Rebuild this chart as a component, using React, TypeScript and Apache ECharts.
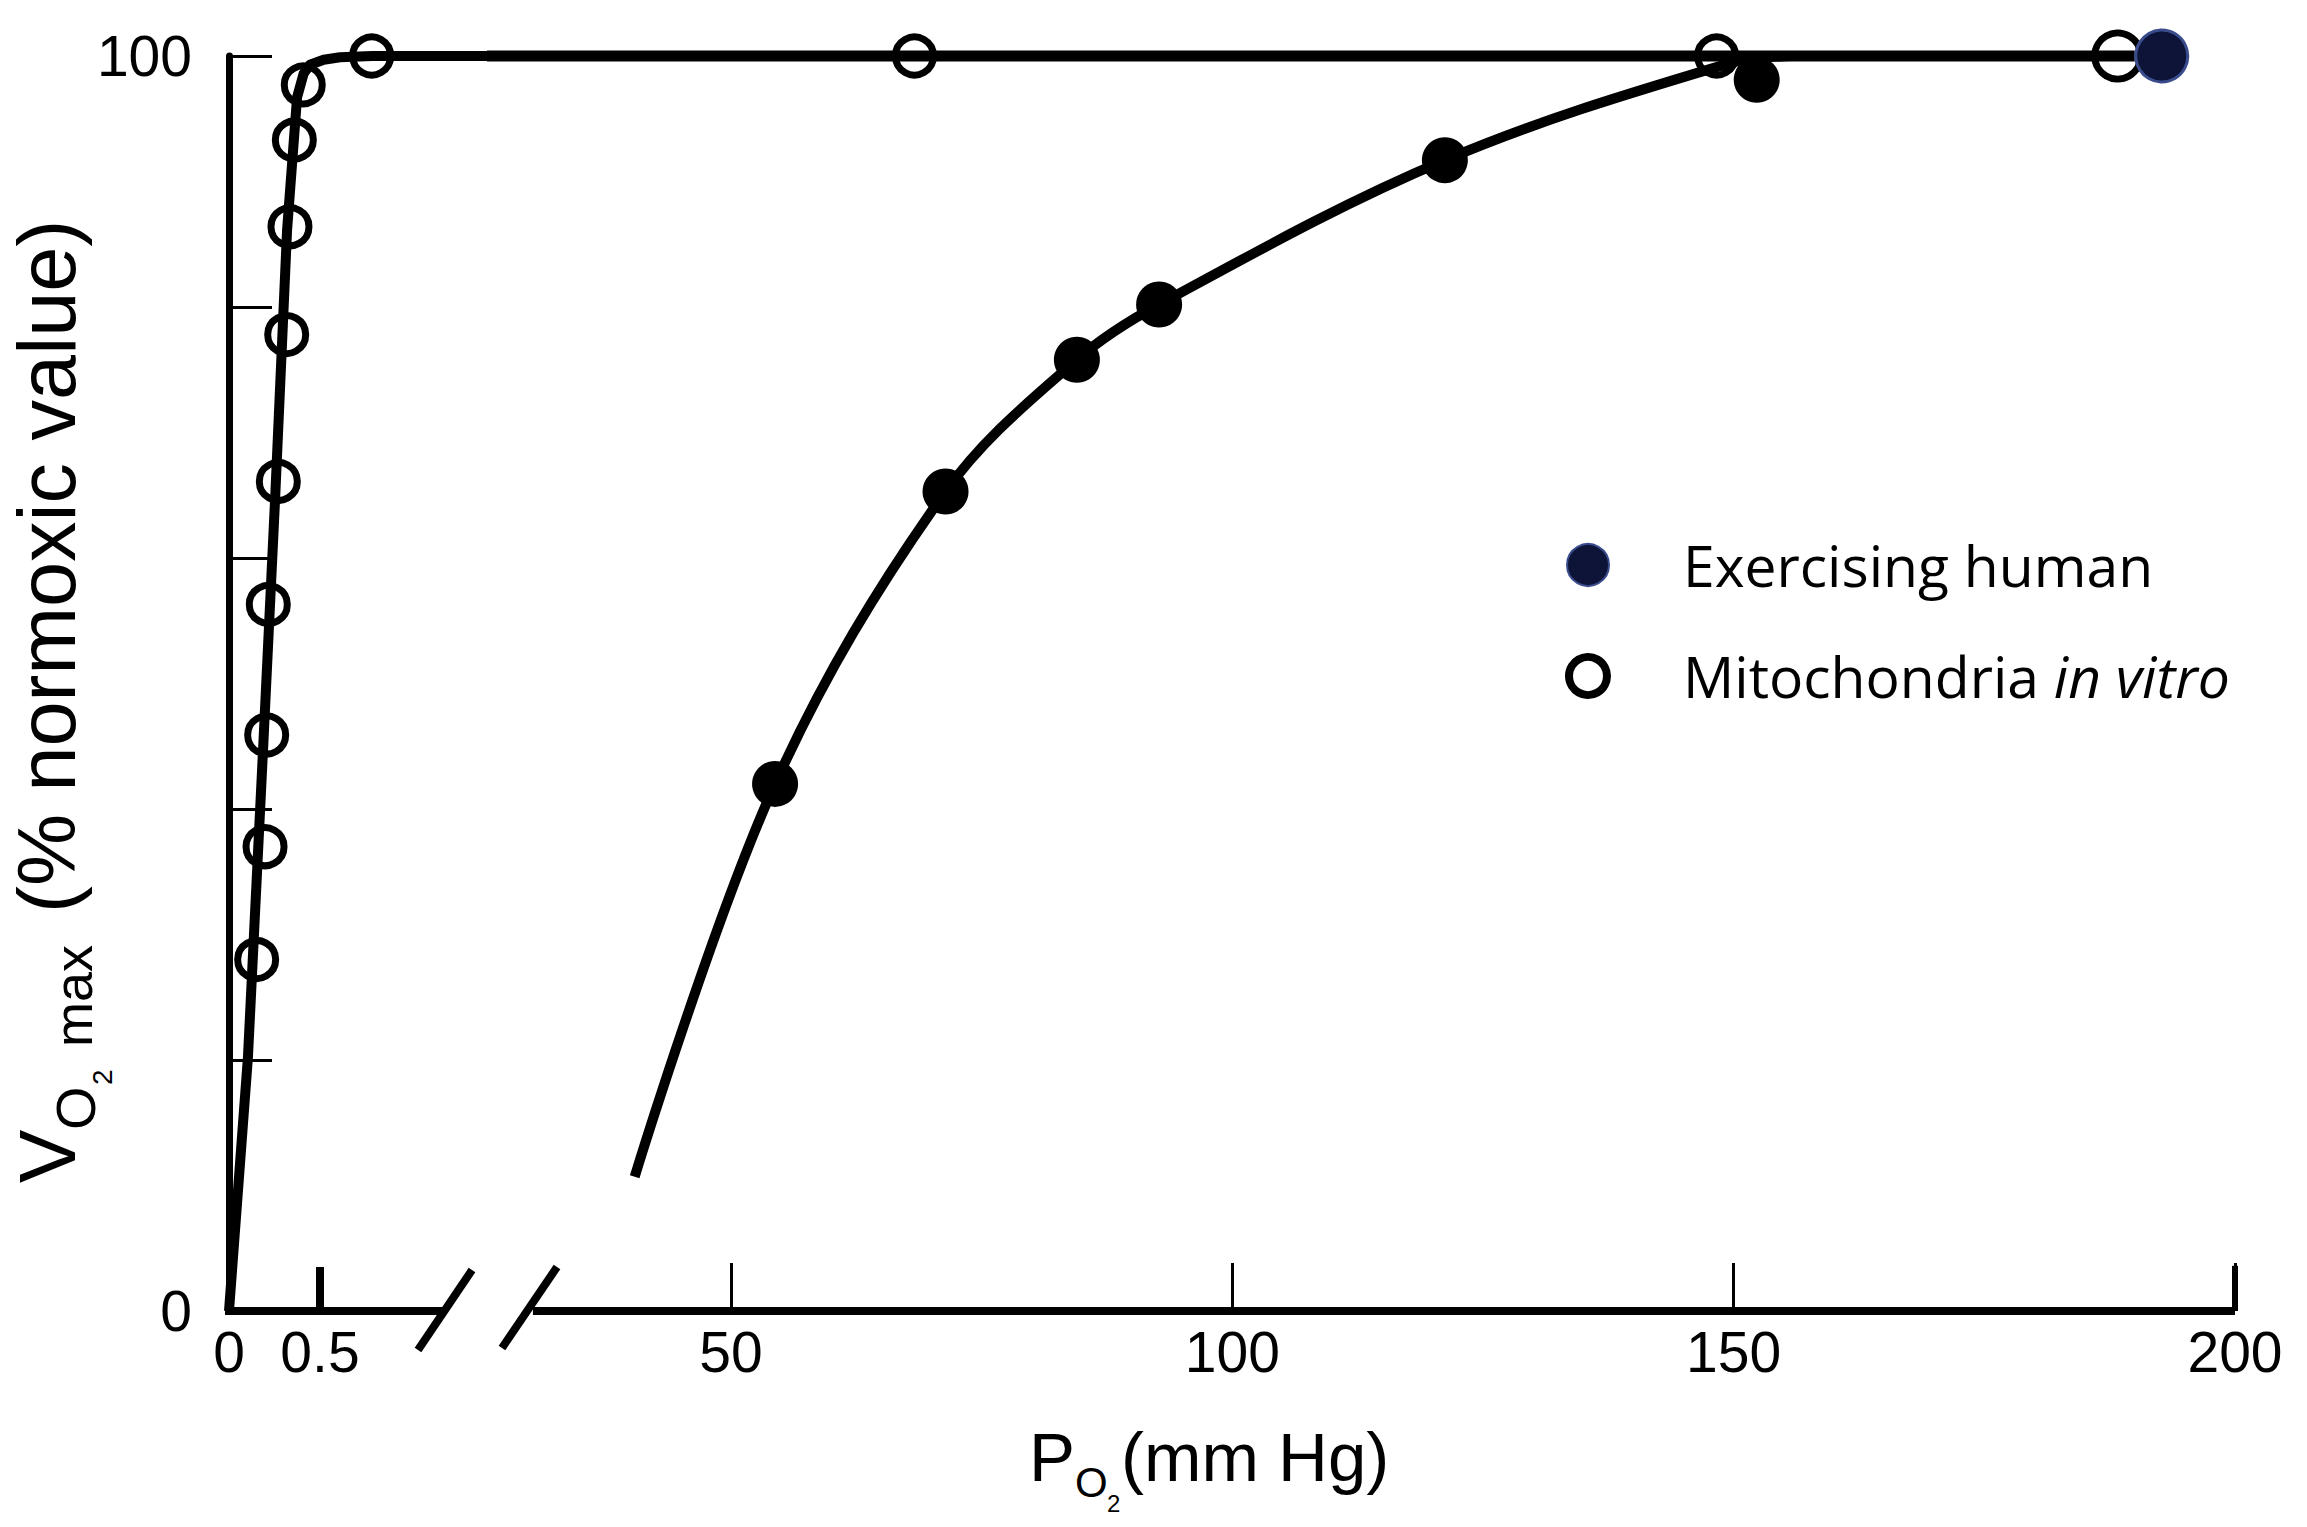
import React, { useEffect, useRef } from "react";
import * as echarts from "echarts";

// ---- data ----
const yTickValues = [0, 20, 40, 60, 80, 100];
const yLabelValues = [0, 100];
const lowXLabels = [0, 0.5];
const lowXTicks = [0.5];
const highXLabels = [50, 100, 150, 200];

// broken x axis: low (expanded) part and high part
const lowXRange = [0, 1.4176];
const highXRange = [25.67, 200];
const lowAxisSegment = [0, 1.159];
const highAxisSegment = [30.25, 200];

// Exercising human (filled)
const humanPO2 = [54.4, 71.4, 84.5, 92.7, 121.2, 152.3, 192.7];
const humanVO2 = [42.0, 65.3, 75.8, 80.2, 91.7, 98.1, 100];

// Mitochondria in vitro (open) – low PO2 part (expanded scale) and high PO2 part
const mitoLowPO2 = [0.152, 0.198, 0.207, 0.216, 0.271, 0.317, 0.335, 0.359, 0.408, 0.784];
const mitoLowVO2 = [28.0, 37.0, 45.9, 56.3, 66.1, 77.8, 86.4, 93.3, 97.7, 100];
const mitoHighPO2 = [68.3, 148.3, 188.3];
const mitoHighVO2 = [100, 100, 100];

// fitted curves
const mitoFitLowPO2 = [0, 0.104, 0.187, 0.253, 0.319, 0.374, 0.41, 0.445, 0.52, 0.61, 0.786, 1.4176];
const mitoFitLowVO2 = [0, 20.2, 44.7, 64.6, 86.1, 96.7, 98.6, 99.3, 99.7, 99.9, 100, 100];
const mitoFitHighPO2 = [25.67, 190];
const mitoFitHighVO2 = [100, 100];
const humanFitPO2 = [40.4, 54.4, 71.4, 84.5, 92.7, 121.2, 149.5, 155.8];
const humanFitVO2 = [10.7, 42.0, 65.3, 75.8, 80.2, 91.7, 99.4, 100];

// axis end marker at 200
const endTickPO2 = [200, 200];
const endTickVO2 = [0, 3.6];

const zip = (a: number[], b: number[]) => a.map((v, i) => [v, b[i]]);

const SANS = '"Liberation Sans", Arial, Helvetica, sans-serif';
const LEG = '"Open Sans", "Noto Sans", sans-serif';
const CENTRAL_LS = 0.3465; // central baseline offset (em) for Liberation Sans

function sansText(text: string, x: number, baseline: number, fs: number) {
  return {
    type: "text",
    x,
    y: baseline - CENTRAL_LS * fs,
    silent: true,
    style: {
      text,
      fontSize: fs,
      fontFamily: SANS,
      fill: "#000",
      align: "left",
      verticalAlign: "middle",
      textAlign: "left",
      textVerticalAlign: "middle",
    },
  };
}

const blackLine = (xi: number, data: number[][], width: number, smooth: any = false, extra: any = {}) => ({
  type: "line",
  xAxisIndex: xi,
  yAxisIndex: xi,
  data,
  symbol: "none",
  smooth,
  clip: false,
  silent: true,
  lineStyle: { color: "#000", width, opacity: 1, ...extra },
  z: 2,
});

export default function App() {
  const ref = useRef<HTMLDivElement>(null);

  useEffect(() => {
    if (!ref.current) return;
    const chart = echarts.init(ref.current, null, { renderer: "svg" });

    const lastHuman = humanPO2.length - 1;
    const lastMito = mitoHighPO2.length - 1;

    const labelStyle = {
      show: true,
      margin: 12,
      fontSize: 57,
      fontFamily: SANS,
      color: "#000",
      formatter: (v: number) => String(v),
    };

    const option: any = {
      animation: false,
      backgroundColor: "#ffffff",
      grid: [
        { left: 229, top: 56, width: 258, height: 1255, containLabel: false, outerBoundsMode: "none" },
        { left: 487, top: 56, width: 1748, height: 1255, containLabel: false, outerBoundsMode: "none" },
      ],
      xAxis: [
        {
          type: "value",
          gridIndex: 0,
          min: lowXRange[0],
          max: lowXRange[1],
          axisLine: { show: false },
          axisTick: {
            show: true,
            inside: true,
            length: 44,
            customValues: lowXTicks,
            lineStyle: { color: "#000", width: 8 },
          },
          axisLabel: { ...labelStyle, customValues: lowXLabels },
          splitLine: { show: false },
        },
        {
          type: "value",
          gridIndex: 1,
          min: highXRange[0],
          max: highXRange[1],
          axisLine: { show: false },
          axisTick: {
            show: true,
            inside: true,
            length: 48,
            customValues: highXLabels,
            lineStyle: { color: "#000", width: 3 },
          },
          axisLabel: { ...labelStyle, customValues: highXLabels },
          splitLine: { show: false },
        },
      ],
      yAxis: [
        {
          type: "value",
          gridIndex: 0,
          min: 0,
          max: 100,
          interval: 20,
          axisLine: { show: true, lineStyle: { color: "#000", width: 7 } },
          axisTick: {
            show: true,
            inside: true,
            length: 43,
            customValues: yTickValues,
            lineStyle: { color: "#000", width: 3 },
          },
          axisLabel: {
            show: true,
            customValues: yLabelValues,
            margin: 37,
            fontSize: 57,
            fontFamily: SANS,
            color: "#000",
            formatter: (v: number) => (yLabelValues.indexOf(v) >= 0 ? String(v) : ""),
          },
          splitLine: { show: false },
        },
        {
          type: "value",
          gridIndex: 1,
          min: 0,
          max: 100,
          show: false,
          splitLine: { show: false },
        },
      ],
      series: [
        // x axis line pieces (broken axis)
        blackLine(0, zip(lowAxisSegment, [0, 0]), 8, false, { cap: "square" }),
        blackLine(1, zip(highAxisSegment, [0, 0]), 8),
        blackLine(1, zip(endTickPO2, endTickVO2), 6),
        // fitted curves
        blackLine(0, zip(mitoFitLowPO2, mitoFitLowVO2), 10, false, { join: "round" }),
        blackLine(1, zip(mitoFitHighPO2, mitoFitHighVO2), 11),
        blackLine(1, zip(humanFitPO2, humanFitVO2), 10, 0.35, { join: "round" }),
        {
          name: "Mitochondria in vitro",
          type: "scatter",
          xAxisIndex: 0,
          yAxisIndex: 0,
          data: zip(mitoLowPO2, mitoLowVO2),
          symbol: "circle",
          symbolSize: 38,
          clip: false,
          silent: true,
          itemStyle: { color: "rgba(0,0,0,0)", borderColor: "#000", borderWidth: 7, opacity: 1 },
          z: 4,
        },
        {
          name: "Mitochondria in vitro",
          type: "scatter",
          xAxisIndex: 1,
          yAxisIndex: 1,
          data: zip(mitoHighPO2, mitoHighVO2),
          symbol: "circle",
          symbolSize: (_v: any, p: any) => (p.dataIndex === lastMito ? 46 : 38),
          clip: false,
          silent: true,
          itemStyle: { color: "rgba(0,0,0,0)", borderColor: "#000", borderWidth: 7, opacity: 1 },
          z: 4,
        },
        {
          name: "Exercising human",
          type: "scatter",
          xAxisIndex: 1,
          yAxisIndex: 1,
          data: humanPO2.map((x, i) =>
            i === lastHuman
              ? {
                  value: [x, humanVO2[i]],
                  itemStyle: { color: "#0d1438", borderColor: "#3a4c8c", borderWidth: 3, opacity: 1 },
                }
              : [x, humanVO2[i]]
          ),
          symbol: "circle",
          symbolSize: (_v: any, p: any) => (p.dataIndex === lastHuman ? 52 : 46),
          clip: false,
          silent: true,
          itemStyle: { color: "#000", opacity: 1 },
          z: 5,
        },
      ],
      graphic: [
        // axis break marks
        { type: "line", silent: true, shape: { x1: 418, y1: 1350, x2: 472, y2: 1270 }, style: { stroke: "#000", lineWidth: 8 } },
        { type: "line", silent: true, shape: { x1: 502, y1: 1348, x2: 557, y2: 1267 }, style: { stroke: "#000", lineWidth: 8 } },
        // x axis title  P_O2 (mm Hg)
        sansText("P", 1029, 1481, 69),
        sansText("O", 1075, 1497, 42),
        sansText("2", 1107, 1512, 24),
        sansText("(mm Hg)", 1121, 1481, 69),
        // y axis title (rotated)
        {
          type: "group",
          x: 75,
          y: 1183,
          rotation: Math.PI / 2,
          silent: true,
          children: [
            sansText("V", 0, 0, 80),
            sansText("O", 53, 20, 56),
            sansText("2", 98, 37, 28),
            sansText("max", 136, 17, 54),
            sansText("(% normoxic value)", 270, 0, 81),
          ],
        },
        // legend
        {
          type: "circle",
          silent: true,
          shape: { cx: 1588, cy: 565, r: 21 },
          style: { fill: "#0d1438", stroke: "#3a4c8c", lineWidth: 2 },
        },
        {
          type: "circle",
          silent: true,
          shape: { cx: 1588, cy: 676, r: 19 },
          style: { fill: "none", stroke: "#000", lineWidth: 8 },
        },
        {
          type: "text",
          x: 1683,
          y: 565,
          silent: true,
          style: {
            text: "Exercising human",
            fontSize: 57,
            fontFamily: LEG,
            fill: "#000",
            align: "left",
            verticalAlign: "middle",
            textAlign: "left",
            textVerticalAlign: "middle",
          },
        },
        {
          type: "text",
          x: 1683,
          y: 676,
          silent: true,
          style: {
            text: "{n|Mitochondria }{i|in vitro}",
            fontSize: 57,
            fontFamily: LEG,
            fill: "#000",
            align: "left",
            verticalAlign: "middle",
            textAlign: "left",
            textVerticalAlign: "middle",
            rich: {
              n: { fontSize: 57, fontFamily: LEG, fill: "#000", color: "#000" },
              i: { fontSize: 57, fontFamily: LEG, fontStyle: "italic", fill: "#000", color: "#000" },
            },
          },
        },
      ],
    };

    chart.setOption(option);
    return () => {
      chart.dispose();
    };
  }, []);

  return (
    <div
      ref={ref}
      style={{ position: "fixed", left: 0, top: 0, width: 2307, height: 1527, background: "#fff" }}
    />
  );
}
